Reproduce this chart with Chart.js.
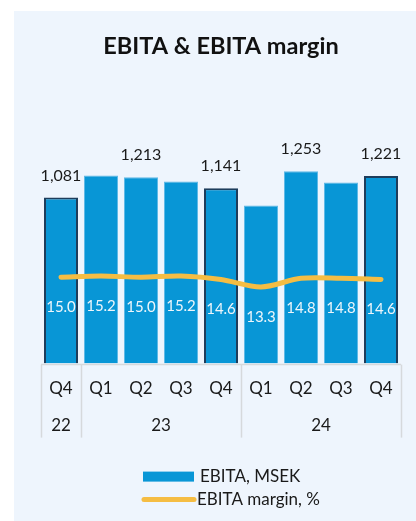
<!DOCTYPE html>
<html>
<head>
<meta charset="utf-8">
<style type="text/css">
	body{
		margin: 0;
		background: white;
	}
	.panel{
		position: absolute;
		left: 14px;
		top: 11px;
		width: 402px;
		height: 510px;
		background: #eef5fd;
	}
</style>
</head>
<body>
<div class="panel">
	<canvas id="myChart"></canvas>
</div>

<script src="https://cdn.jsdelivr.net/npm/chart.js"></script>

<script type="text/javascript">

	// dados
	var quarters = ['Q4', 'Q1', 'Q2', 'Q3', 'Q4', 'Q1', 'Q2', 'Q3', 'Q4']
	var years = ['22', '23', '24']
	var yearSpans = [1, 4, 4]
	var ebita = [1081, 1225, 1213, 1186, 1141, 1030, 1253, 1179, 1221]
	var showValue = [true, false, true, false, true, false, true, false, true]
	var margin = [15.0, 15.2, 15.0, 15.2, 14.6, 13.3, 14.8, 14.8, 14.6]
	var fullYear = [true, false, false, false, true, false, false, false, true]

	var blue = '#0896d6'
	var yellow = '#f5bd43'
	var font = 'Lato, "Open Sans", sans-serif'

	var ctx = document.getElementById('myChart')

	// rótulos, separadores e legenda
	var extras = {
		id: 'extras',
		afterDatasetsDraw: chart=>{
			var c = chart.ctx
			var bars = chart.getDatasetMeta(1).data
			var pts = chart.getDatasetMeta(0).data
			c.save()
			c.textAlign = 'center'
			c.textBaseline = 'middle'
			c.font = '16px ' + font
			c.fillStyle = '#1a1a1a'
			bars.forEach((b, i)=>{
				if (showValue[i]) c.fillText(ebita[i].toLocaleString('en-US'), b.x, b.y - 22)
			})
			c.font = '15px ' + font
			c.fillStyle = '#eef6fb'
			pts.forEach((p, i)=>{
				c.fillText(margin[i].toFixed(1), p.x, p.y + 30)
			})
			c.restore()
		},
		afterDraw: chart=>{
			var c = chart.ctx
			var x = chart.scales.x
			var area = chart.chartArea
			var top = area.bottom + 1
			var bottom = area.bottom + 74
			c.save()
			c.strokeStyle = '#d6d9dc'
			c.lineWidth = 1.5
			// linha do eixo
			c.beginPath()
			c.moveTo(area.left, top)
			c.lineTo(area.right, top)
			c.stroke()
			// separadores de ano + anos
			var idx = 0
			c.textAlign = 'center'
			c.textBaseline = 'middle'
			c.font = '17px ' + font
			c.fillStyle = '#1a1a1a'
			var edges = [idx]
			years.forEach((y, k)=>{
				var from = idx
				var to = idx + yearSpans[k] - 1
				var cx = (x.getPixelForValue(from) + x.getPixelForValue(to)) / 2
				c.fillText(y, cx, area.bottom + 62)
				idx = to + 1
				edges.push(idx)
			})
			edges.forEach(e=>{
				var px = Math.round(x.getPixelForValue(e - 0.5)) + 0.5
				c.beginPath()
				c.moveTo(px, top)
				c.lineTo(px, bottom)
				c.stroke()
			})
			// legenda
			var lx = area.left + (area.right - area.left) / 2 - 78
			var ly = area.bottom + 113
			c.fillStyle = blue
			c.fillRect(lx, ly - 5, 51, 10)
			c.fillStyle = '#1a1a1a'
			c.textAlign = 'left'
			c.font = '17px ' + font
			c.fillText('EBITA, MSEK', lx + 57, ly)
			c.strokeStyle = yellow
			c.lineWidth = 5
			c.lineCap = 'round'
			c.beginPath()
			c.moveTo(lx + 1, ly + 23)
			c.lineTo(lx + 51, ly + 23)
			c.stroke()
			c.fillText('EBITA margin, %', lx + 54, ly + 23)
			c.restore()
		}
	}

	var dataMix = {
		labels: quarters,
		datasets: [
			{
				type: 'line',
				label: 'EBITA margin, %',
				data: margin,
				yAxisID: 'y1',
				borderColor: yellow,
				backgroundColor: yellow,
				borderWidth: 5,
				borderCapStyle: 'round',
				borderJoinStyle: 'round',
				pointRadius: 0,
				tension: 0.3,
				order: 0
			},
			{
				type: 'bar',
				label: 'EBITA, MSEK',
				data: ebita,
				yAxisID: 'y',
				backgroundColor: blue,
				borderColor: fullYear.map(f=> f ? '#1d3d5c' : '#5fb9e6'),
				borderWidth: fullYear.map(f=> f ? 2 : 1),
				categoryPercentage: 1,
				barPercentage: 0.85,
				order: 1
			}
		]
	}

	var cfg = {
		data: dataMix,
		plugins: [extras],
		options: {
			responsive: true,
			maintainAspectRatio: false,
			animation: false,
			layout: {
				padding: {left: 27, right: 15, top: 0, bottom: 107}
			},
			scales: {
				x: {
					grid: {display: false, drawTicks: false},
					border: {display: false},
					ticks: {
						padding: 15,
						color: '#1a1a1a',
						font: {family: font, size: 17}
					}
				},
				y: {
					display: false,
					min: 0,
					max: 1500
				},
				y1: {
					display: false,
					min: 0,
					max: 40
				}
			},
			plugins: {
				legend: {display: false},
				tooltip: {enabled: false},
				title: {
					display: true,
					text: 'EBITA & EBITA margin',
					color: '#111',
					font: {family: font, size: 23.5, weight: 'bold'},
					padding: {top: 21, bottom: 73}
				}
			}
		}
	}

	new Chart(ctx, cfg)

</script>
</body>
</html>
